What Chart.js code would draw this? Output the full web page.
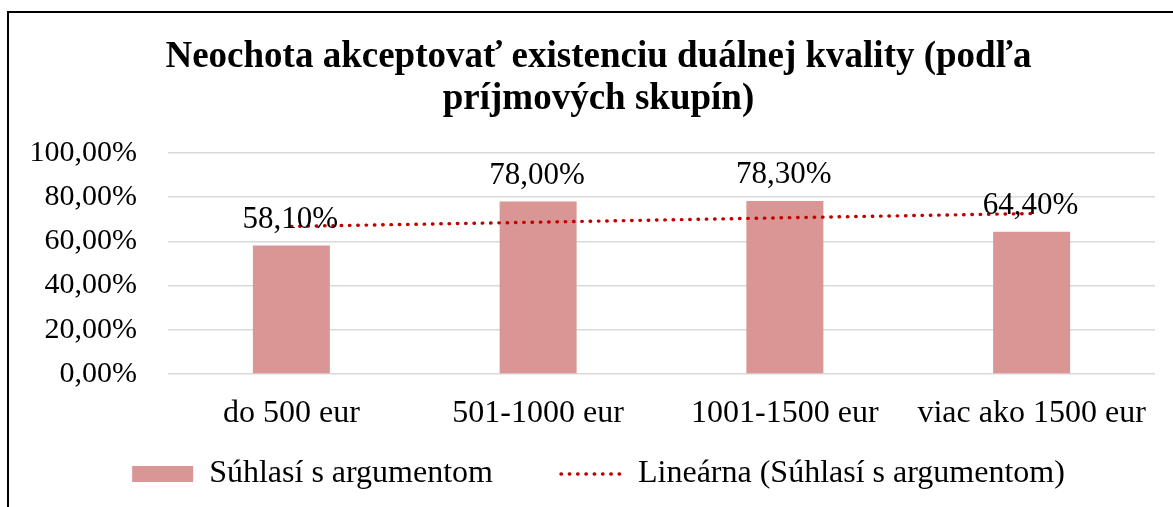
<!DOCTYPE html>
<html>
<head>
<meta charset="utf-8">
<script src="https://cdn.jsdelivr.net/npm/chart.js@4/dist/chart.umd.min.js"></script>
<style>
  html, body { margin: 0; padding: 0; background: #fff; overflow: hidden; }
  #frame { position: absolute; left: 7px; top: 11px; width: 1300px; height: 700px; border: 2px solid #000; box-sizing: border-box; }
  #wrap { position: absolute; left: 0; top: 0; width: 1173px; height: 507px; }
</style>
</head>
<body>
<div id="frame"></div>
<div id="wrap"><canvas id="c" width="1173" height="507"></canvas></div>
<script>
const categories = ['do 500 eur', '501-1000 eur', '1001-1500 eur', 'viac ako 1500 eur'];
const agreeValues = [58.1, 78.0, 78.3, 64.4];
const trendValues = [66.8, 68.7, 70.7, 72.6];
const yTicks = [0, 20, 40, 60, 80, 100];
const seriesName = 'Súhlasí s argumentom';
const trendName = 'Lineárna (Súhlasí s argumentom)';
const titleLines = ['Neochota akceptovať existenciu duálnej kvality (podľa', 'príjmových skupín)'];

const FONT = "'Liberation Serif', 'Times New Roman', serif";
const fmt = v => v.toFixed(2).replace('.', ',') + '%';

const valueLabels = {
  id: 'valueLabels',
  afterDatasetsDraw(chart) {
    const ctx = chart.ctx;
    const meta = chart.getDatasetMeta(1);
    ctx.save();
    ctx.font = '31px ' + FONT;
    ctx.fillStyle = '#000';
    ctx.textAlign = 'center';
    ctx.textBaseline = 'alphabetic';
    meta.data.forEach((bar, i) => {
      ctx.fillText(fmt(agreeValues[i]), bar.x - 1, bar.y - 18);
    });
    ctx.restore();
  }
};

new Chart(document.getElementById('c'), {
  data: {
    labels: categories,
    datasets: [
      {
        type: 'line',
        label: trendName,
        data: trendValues,
        borderColor: '#C00000',
        backgroundColor: '#C00000',
        borderWidth: 3.4,
        borderDash: [0.5, 7.8],
        borderCapStyle: 'round',
        pointRadius: 0,
        fill: false,
        tension: 0,
        order: 0
      },
      {
        type: 'bar',
        label: seriesName,
        data: agreeValues,
        backgroundColor: '#D99694',
        borderWidth: 0,
        categoryPercentage: 1,
        barPercentage: 0.312,
        order: 1
      }
    ]
  },
  options: {
    responsive: false,
    animation: false,
    devicePixelRatio: 1,
    layout: { padding: { left: 42, right: 18, top: 0, bottom: 7 } },
    plugins: {
      title: {
        display: true,
        text: titleLines,
        color: '#000',
        font: { family: FONT, size: 37, weight: 'bold', lineHeight: 1.135 },
        padding: { top: 36, bottom: 33 }
      },
      legend: {
        display: true,
        position: 'bottom',
        reverse: true,
        labels: {
          color: '#000',
          font: { family: FONT, size: 32, lineHeight: 1.0 },
          usePointStyle: true,
          pointStyleWidth: 61,
          boxHeight: 16,
          padding: 68,
          generateLabels(chart) {
            return [
              { text: trendName, datasetIndex: 0, pointStyle: 'line', strokeStyle: '#C00000', fillStyle: '#C00000', lineWidth: 3.4, lineDash: [0.5, 7.8], lineCap: 'round', fontColor: '#000' },
              { text: seriesName, datasetIndex: 1, pointStyle: 'rect', fillStyle: '#D99694', strokeStyle: '#D99694', lineWidth: 0, fontColor: '#000' }
            ];
          }
        }
      },
      tooltip: { enabled: false }
    },
    scales: {
      x: {
        grid: { display: false },
        border: { display: false },
        ticks: { color: '#000', font: { family: FONT, size: 32 }, mirror: true, padding: -59, maxRotation: 0, autoSkip: false },
        afterFit(scale) { scale.height = 16; }
      },
      y: {
        min: 0,
        max: 100,
        afterBuildTicks(scale) { scale.ticks = yTicks.map(v => ({ value: v })); },
        grid: { color: '#D9D9D9', lineWidth: 1.5, drawTicks: false },
        border: { display: false },
        ticks: { color: '#000', font: { family: FONT, size: 30 }, mirror: true, crossAlign: 'far', padding: -138.5, callback: v => fmt(v) },
        afterFit(scale) { scale.width = 126; }
      }
    }
  },
  plugins: [valueLabels]
});
</script>
</body>
</html>
